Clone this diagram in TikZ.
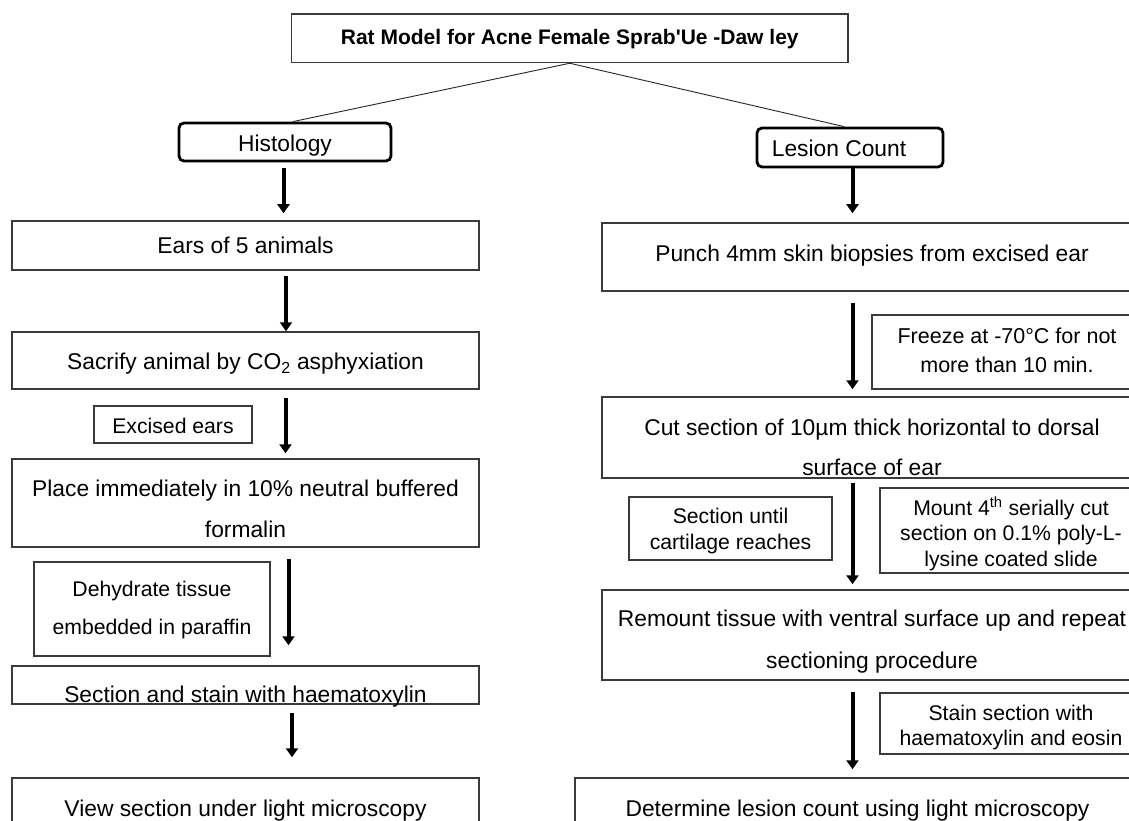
\documentclass[tikz,border=0pt]{standalone}
\usepackage{fontspec}
\setmainfont{Liberation Sans}
\usetikzlibrary{arrows.meta}
\definecolor{boxline}{HTML}{3A3A3A}
\tikzset{
  box/.style={draw=boxline, line width=1.5pt, inner sep=0pt, rectangle},
  headbox/.style={draw=black, line width=2.8pt, rounded corners=5pt, inner sep=0pt, rectangle},
  % multi-line labels are anchored at the baseline of their last line
  txt/.style={font=\fontsize{22.8}{#1}\selectfont, align=center, anchor=base, inner sep=0pt},
  txt/.default=41.3,
  note/.style={font=\fontsize{21.2}{#1}\selectfont, align=center, anchor=base, inner sep=0pt},
  note/.default=25.8,
  flow/.style={line width=4pt, -{Triangle[width=12pt,length=9pt]}},
  branch/.style={draw=black!85, line width=0.9pt}
}
\begin{document}
\begin{tikzpicture}[x=1pt,y=-1pt]
\clip (0,0) rectangle (1129,821);
\fill[white] (0,0) rectangle (1129,821);

% ---- title and the two branches ----
\node[box, minimum width=556.5pt, minimum height=48.5pt] (title) at (569.75,38.25) {};
\node[txt, font=\fontsize{21}{25}\selectfont\bfseries] (titleT) at (569.75,45) {Rat Model for Acne Female Sprab\textquotesingle Ue -Daw ley};

\node[headbox, minimum width=212pt, minimum height=38pt] (hist) at (285,142) {};
\node[txt] (histT) at (285,151.5) {Histology};

\node[headbox, minimum width=186pt, minimum height=39pt] (lesion) at (850,147.5) {};
\node[txt] (lesionT) at (839,157) {Lesion Count};

\draw[branch] (title.south) -- ([xshift=8pt]hist.north);
\draw[branch] (title.south) -- ([xshift=-6pt]lesion.north);

% ---- histology column ----
\node[box, minimum width=467pt, minimum height=49pt] (ears) at (245.5,245.5) {};
\node[txt] (earsT) at (245.5,253) {Ears of 5 animals};

\node[box, minimum width=467pt, minimum height=57pt] (sacr) at (245.5,360.5) {};
\node[txt] (sacrT) at (245.5,369) {Sacrify animal by CO\textsubscript{2} asphyxiation};

\node[box, minimum width=158pt, minimum height=37pt] (excised) at (173,424.5) {};
\node[note] (excisedT) at (173,433) {Excised ears};

\node[box, minimum width=467pt, minimum height=88pt] (place) at (245.5,503) {};
\node[txt] (placeT) at (245.5,537.3) {Place immediately in 10\% neutral buffered\\formalin};

\node[box, minimum width=236pt, minimum height=94pt] (dehyd) at (152,609) {};
\node[note=38.3] (dehydT) at (152,634.3) {Dehydrate tissue\\embedded in paraffin};

\node[box, minimum width=467pt, minimum height=38pt] (sect) at (245.5,685) {};
\node[txt] (sectT) at (245.5,702) {Section and stain with haematoxylin};

\node[box, minimum width=467pt, minimum height=82pt] (view) at (245.5,819) {};
\node[txt] (viewT) at (245.5,816.5) {View section under light microscopy};

\coordinate (h1) at (283.5,0);
\coordinate (h2) at (286,0);
\coordinate (h3) at (285.5,0);
\coordinate (h4) at (288.5,0);
\coordinate (h5) at (292,0);
\draw[flow, shorten <=6pt, shorten >=7pt] (hist.south -| h1) -- (ears.north -| h1);
\draw[flow, shorten <=5pt, shorten >=0pt] (ears.south -| h2) -- (sacr.north -| h2);
\draw[flow, shorten <=8pt, shorten >=5pt] (sacr.south -| h3) -- (place.north -| h3);
\draw[flow, shorten <=11pt, shorten >=20pt] (place.south -| h4) -- (sect.north -| h4);
\draw[flow, shorten <=8pt, shorten >=20pt] (sect.south -| h5) -- (view.north -| h5);

% ---- lesion count column ----
\node[box, minimum width=540pt, minimum height=68pt] (punch) at (872,257) {};
\node[txt] (punchT) at (872,261.5) {Punch 4mm skin biopsies from excised ear};

\node[box, minimum width=270pt, minimum height=74pt] (freeze) at (1007,352) {};
\node[note=29.4, font=\fontsize{21.5}{29.4}\selectfont] (freezeT) at (1007,372.7) {Freeze at -70\textdegree C for not\\more than 10 min.};

\node[box, minimum width=540pt, minimum height=81pt] (cut) at (872,437.5) {};
\node[txt=40] (cutT) at (872,475) {Cut section of 10µm thick horizontal to dorsal\\surface of ear};

\node[box, minimum width=203pt, minimum height=63pt] (until) at (730.5,528.5) {};
\node[note=26] (untilT) at (730.5,549.3) {Section until\\cartilage reaches};

\node[box, minimum width=262pt, minimum height=85pt] (mount) at (1011,530.5) {};
\node[note=25.5] (mountT) at (1011,566) {Mount 4\textsuperscript{th} serially cut\\section on 0.1\% poly-L-\\lysine coated slide};

\node[box, minimum width=540pt, minimum height=90pt] (remount) at (872,635) {};
\node[txt=41.6] (remountT) at (872,668.3) {Remount tissue with ventral surface up and repeat\\sectioning procedure};

\node[box, minimum width=262pt, minimum height=61pt] (stain) at (1011,723.5) {};
\node[note=25.7] (stainT) at (1011,745.7) {Stain section with\\haematoxylin and eosin};

\node[box, minimum width=565pt, minimum height=82pt] (determine) at (857.5,819) {};
\node[txt] (determineT) at (857.5,816) {Determine lesion count using light microscopy};

\coordinate (rc) at (852.5,0);
\draw[flow, shorten <=0pt, shorten >=9pt] (lesion.south -| rc) -- (punch.north -| rc);
\draw[flow, shorten <=11pt, shorten >=7pt] (punch.south -| rc) -- (cut.north -| rc);
\draw[flow, shorten <=4pt, shorten >=5pt] (cut.south -| rc) -- (remount.north -| rc);
\draw[flow, shorten <=11pt, shorten >=8pt] (remount.south -| rc) -- (determine.north -| rc);
\end{tikzpicture}
\end{document}
